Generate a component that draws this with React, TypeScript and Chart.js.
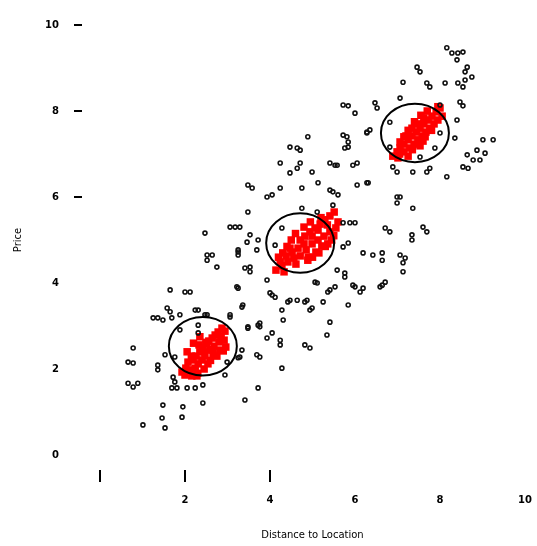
import React, { useEffect, useRef } from "react";
import { Chart, registerables } from "chart.js";

Chart.register(...registerables);

// ---- axis ticks ----
const xTickValues = [0, 2, 4, 6, 8, 10];
const yTickValues = [0, 2, 4, 6, 8, 10];
const xMarkedTicks = [0, 2, 4];
const yMarkedTicks = [6, 8, 10];
const xTitle = "Distance to Location";
const yTitle = "Price";

// ---- black scatter (x, y) ----
const blackX = [
  1.25, 1.36, 1.48, 1.65, 1.69, 1.88, 2.31, 2.52, 3.06, 3.36, 2.31, 2.31, 3.48, 3.72, 0.78, 0.66, 0.78, 1.53, 1.36, 1.36,
  1.76, 1.88, 3.34, 3.25, 3.69, 2.99, 2.94, 1.72, 1.76, 1.69, 1.81, 2.05, 2.24, 2.42, 0.66, 0.78, 0.89, 1.48, 1.95, 2.42,
  3.41, 3.72, 1.01, 1.46, 1.93, 1.53,
  3.06, 3.18, 3.29, 2.47, 3.53, 3.72, 3.46, 3.69, 3.25, 2.52, 2.64, 2.75, 3.53, 3.53, 4.28, 4.12, 3.93, 3.25, 2.0, 4.0,
  4.12, 5.06, 5.36, 4.47, 4.64, 4.82, 4.99, 5.25, 4.28, 4.31, 3.34, 3.06, 2.24, 2.47, 3.48, 3.76,
  4.89, 5.81, 5.84, 6.28, 4.47, 4.64, 4.71, 4.24, 4.71, 4.47, 4.64, 4.99, 5.41, 5.53, 6.05, 5.13, 5.41, 5.6, 6.05, 6.28,
  3.58, 3.93, 4.05, 4.24, 4.75, 3.48, 4.75, 5.11, 5.48,
  8.16, 8.28, 8.42, 8.54, 8.4, 7.46, 7.53, 8.64, 8.59, 7.13, 7.69, 7.76, 8.12, 8.42, 8.59, 8.75, 8.54, 7.06, 5.72, 5.84,
  6.0, 6.47, 6.52, 8.0, 8.47, 8.54, 6.82, 6.35, 6.28, 5.72, 5.84, 5.76, 8.4, 8.35, 8.0, 9.01, 9.25, 8.87, 9.06, 8.64,
  8.78, 8.94, 8.66, 8.54, 7.88, 7.53, 6.82, 6.89, 7.36, 7.76, 8.16, 5.58, 5.95, 6.31,
  3.22, 5.11, 5.41, 5.58, 5.76, 5.95, 6.12, 6.59, 6.71, 7.13, 7.13, 4.05, 4.42, 4.87, 4.94, 5.84, 3.76, 5.41, 5.34, 4.05,
  3.93, 4.24, 4.24, 4.82, 4.94, 3.29, 3.76, 4.28,
  3.48, 3.25, 3.25, 2.52, 3.41, 1.65, 2.12, 1.58,
  5.48, 6.99, 7.06, 6.99, 7.36, 5.72, 5.88, 6.0, 6.71, 6.82, 7.34, 7.34, 7.6, 7.69, 5.72, 5.84, 6.19, 6.42, 6.64, 6.64,
  7.06, 7.18, 5.76, 6.0, 6.19, 6.64, 5.53, 6.99, 7.69,
];
const blackY = [
  3.19, 3.19, 3.14, 3.33, 3.19, 3.26, 3.37, 3.26, 3.26, 3.49, 3.02, 2.84, 2.95, 3.02, 2.49, 2.16, 2.14, 2.33, 2.09, 1.98,
  2.28, 2.91, 2.44, 2.26, 2.33, 2.16, 1.86, 1.81, 1.7, 1.56, 1.56, 1.56, 1.56, 1.63, 1.67, 1.58, 1.67, 1.16, 1.12, 1.21,
  1.28, 1.56, 0.7, 0.86, 0.88, 0.63,
  5.3, 5.3, 5.3, 5.16, 5.12, 5.0, 4.95, 4.77, 4.72, 4.65, 4.65, 4.37, 4.37, 4.26, 5.28, 4.88, 4.07, 3.88, 3.79, 3.77,
  3.67, 4.02, 3.79, 3.6, 3.6, 3.56, 3.42, 3.56, 3.37, 3.14, 3.44, 3.21, 3.37, 3.26, 2.98, 2.98,
  7.4, 7.4, 7.16, 7.51, 7.16, 7.14, 7.09, 6.79, 6.79, 6.56, 6.67, 6.58, 6.79, 6.74, 6.79, 6.33, 6.16, 6.05, 6.28, 6.33,
  6.21, 6.0, 6.05, 6.21, 6.21, 5.65, 5.74, 5.65, 5.81,
  9.47, 9.35, 9.35, 9.37, 9.19, 9.02, 8.91, 9.02, 8.91, 8.67, 8.65, 8.56, 8.65, 8.65, 8.72, 8.79, 8.56, 8.3, 8.14, 8.12,
  7.95, 8.19, 8.07, 8.14, 8.21, 8.12, 7.74, 7.56, 7.49, 7.44, 7.28, 7.14, 7.79, 7.37, 7.49, 7.33, 7.33, 7.09, 7.02, 6.98,
  6.86, 6.86, 6.67, 6.7, 7.14, 6.93, 7.16, 6.7, 6.58, 6.67, 6.47, 6.74, 6.74, 6.33,
  3.91, 4.0, 3.84, 4.3, 4.23, 3.95, 3.79, 3.91, 4.02, 4.47, 4.26, 3.72, 3.56, 3.6, 3.37, 3.49, 3.07, 3.09, 2.79, 2.84,
  2.72, 2.67, 2.56, 2.56, 2.49, 2.28, 2.28, 2.02,
  6.28, 4.77, 4.65, 4.53, 4.35, 3.84, 3.79, 3.42,
  6.12, 6.0, 6.0, 5.86, 5.74, 5.4, 5.4, 5.4, 5.28, 5.19, 5.12, 5.0, 5.3, 5.19, 4.84, 4.93, 4.7, 4.65, 4.7, 4.53,
  4.65, 4.58, 4.14, 3.91, 3.88, 3.95, 3.91, 6.58, 6.58,
];

// ---- red cluster points (x, y) ----
const redX = [
  1.93, 2.02, 2.12, 2.07, 2.19, 2.26, 2.31, 2.35, 2.42, 2.49, 2.56, 2.64, 2.71, 2.78, 2.87, 2.94, 2.47, 2.59, 2.68, 2.8,
  2.92, 2.4, 2.24, 2.54, 2.33, 2.66, 2.82, 2.96, 2.16, 2.45, 2.0, 2.28,
  2.35, 2.2, 2.05, 2.6, 2.75, 2.9, 2.45, 2.3, 2.85, 2.15, 2.5, 2.65,
  4.14, 4.28, 4.42, 4.24, 4.38, 4.52, 4.66, 4.56, 4.71, 4.82, 4.94, 5.06, 5.18, 5.29, 5.41, 5.51, 4.71, 4.85, 4.99, 5.13,
  5.27, 5.41, 5.55, 4.89, 4.61, 5.08, 5.22, 5.36, 4.8, 4.99, 4.47, 5.6, 4.33, 5.13,
  4.6, 4.5, 4.4, 4.3, 5.0, 5.15, 5.3, 5.45, 4.8, 4.95, 5.2, 4.9, 4.2, 5.5, 5.35,
  6.89, 6.99, 7.06, 7.15, 7.25, 7.34, 7.44, 7.53, 7.62, 7.72, 7.81, 7.91, 8.0, 7.15, 7.29, 7.39, 7.48, 7.58, 7.67, 7.76,
  7.86, 7.95, 7.06, 7.2, 7.34, 7.48, 7.62, 7.25, 7.53, 8.05, 7.01,
  7.25, 7.15, 7.4, 7.55, 7.5, 7.65, 7.8, 7.35, 7.05, 7.7, 7.95, 7.6,
];
const redY = [
  1.93, 2.02, 1.98, 2.16, 2.21, 2.3, 2.12, 2.4, 2.49, 2.58, 2.65, 2.72, 2.79, 2.86, 2.95, 2.88, 2.3, 2.44, 2.53, 2.63,
  2.67, 2.21, 2.02, 2.12, 2.56, 2.35, 2.44, 2.51, 1.84, 2.4, 1.86, 1.84,
  2.75, 2.6, 2.4, 2.2, 2.3, 2.42, 2.0, 1.9, 2.75, 2.3, 2.62, 2.45,
  4.3, 4.4, 4.49, 4.49, 4.63, 4.72, 4.81, 4.58, 5.0, 5.09, 5.19, 5.28, 5.37, 5.47, 5.56, 5.65, 4.63, 4.77, 4.91, 5.0,
  5.09, 5.19, 5.28, 4.53, 4.44, 4.72, 4.86, 4.91, 4.91, 5.09, 4.81, 5.42, 4.26, 5.23,
  5.15, 5.0, 4.85, 4.7, 4.6, 4.7, 4.85, 5.0, 5.3, 5.42, 5.52, 4.6, 4.6, 5.1, 5.35,
  6.95, 7.05, 7.14, 7.23, 7.33, 7.42, 7.51, 7.6, 7.7, 7.79, 7.88, 7.98, 8.07, 7.05, 7.14, 7.23, 7.33, 7.42, 7.51, 7.6,
  7.7, 7.79, 7.28, 7.42, 7.6, 7.7, 7.84, 6.95, 7.19, 7.88, 6.91,
  7.55, 7.4, 7.75, 7.9, 7.25, 7.4, 7.55, 7.1, 7.0, 8.0, 8.1, 7.3,
];

// ---- circles (centre and radii in data units) ----
const circleCx = [2.42, 4.71, 7.41];
const circleCy = [2.53, 4.93, 7.49];
const circleRx = [0.8, 0.8, 0.8];
const circleRy = [0.68, 0.69, 0.68];

const toPoints = (xs: number[], ys: number[]) => xs.map((x, i) => ({ x, y: ys[i] }));

const ellipsePlugin = {
  id: "ellipses",
  afterDatasetsDraw(chart: any) {
    const { ctx, scales } = chart;
    const xs = scales.x;
    const ys = scales.y;
    ctx.save();
    ctx.strokeStyle = "#000";
    ctx.lineWidth = 2;
    circleCx.forEach((cx, i) => {
      const px = xs.getPixelForValue(cx);
      const py = ys.getPixelForValue(circleCy[i]);
      const rx = Math.abs(xs.getPixelForValue(cx + circleRx[i]) - px);
      const ry = Math.abs(ys.getPixelForValue(circleCy[i] + circleRy[i]) - py);
      ctx.beginPath();
      ctx.ellipse(px, py, rx, ry, 0, 0, Math.PI * 2);
      ctx.stroke();
    });
    ctx.restore();
  },
};

const tickMarkPlugin = {
  id: "tickMarks",
  afterDraw(chart: any) {
    const { ctx, scales, chartArea } = chart;
    ctx.save();
    ctx.strokeStyle = "#000";
    ctx.lineWidth = 2;
    yMarkedTicks.forEach((v) => {
      const py = Math.round(scales.y.getPixelForValue(v));
      ctx.beginPath();
      ctx.moveTo(chartArea.left - 26, py);
      ctx.lineTo(chartArea.left - 18, py);
      ctx.stroke();
    });
    xMarkedTicks.forEach((v) => {
      const px = Math.round(scales.x.getPixelForValue(v));
      ctx.beginPath();
      ctx.moveTo(px, chartArea.bottom + 15);
      ctx.lineTo(px, chartArea.bottom + 27);
      ctx.stroke();
    });
    ctx.restore();
  },
};

const zeroScalePadding = (s: any) => {
  s.paddingTop = 0;
  s.paddingBottom = 0;
  s.paddingLeft = 0;
  s.paddingRight = 0;
};

export default function App() {
  const canvasRef = useRef<HTMLCanvasElement | null>(null);

  useEffect(() => {
    if (!canvasRef.current) return;
    const font = { family: "DejaVu Sans", size: 10, weight: "bold" as const };
    const chart = new Chart(canvasRef.current, {
      type: "scatter",
      data: {
        datasets: [
          {
            label: "points",
            data: toPoints(blackX, blackY),
            pointStyle: "circle",
            pointRadius: 2,
            pointBorderWidth: 1.6,
            pointBorderColor: "#111",
            pointBackgroundColor: "rgba(255,255,255,0)",
            order: 0,
          },
          {
            label: "clusters",
            data: toPoints(redX, redY),
            pointStyle: "rect",
            pointRadius: 5.3,
            pointBorderWidth: 0,
            pointBackgroundColor: "#ff0000",
            pointBorderColor: "#ff0000",
            order: 1,
          },
        ],
      },
      options: {
        animation: false,
        responsive: true,
        maintainAspectRatio: false,
        layout: { padding: { top: 25, right: 12, left: 0, bottom: 0 } },
        plugins: { legend: { display: false }, tooltip: { enabled: false } },
        scales: {
          x: {
            type: "linear",
            min: 0,
            max: 10,
            border: { display: false },
            grid: { display: false, drawTicks: false },
            afterFit: (s: any) => {
              s.height = 91;
              zeroScalePadding(s);
            },
            afterBuildTicks: (s: any) => {
              s.ticks = xTickValues.map((v) => ({ value: v }));
            },
            ticks: {
              padding: 39,
              color: "#000",
              font,
              maxRotation: 0,
              callback: (v: any) => (v === 0 ? "" : String(v)),
            },
            title: {
              display: true,
              text: xTitle,
              color: "#000",
              font: { family: "DejaVu Sans", size: 10 },
              padding: { top: 0, bottom: 5 },
            },
          },
          y: {
            type: "linear",
            min: 0,
            max: 10,
            border: { display: false },
            grid: { display: false, drawTicks: false },
            afterFit: (s: any) => {
              s.width = 100;
              zeroScalePadding(s);
            },
            afterBuildTicks: (s: any) => {
              s.ticks = yTickValues.map((v) => ({ value: v }));
            },
            ticks: {
              padding: 41,
              color: "#000",
              font,
              callback: (v: any) => String(v),
            },
            title: {
              display: true,
              text: yTitle,
              color: "#000",
              font: { family: "DejaVu Sans", size: 10 },
              padding: { top: 12, bottom: 0 },
            },
          },
        },
      },
      plugins: [ellipsePlugin, tickMarkPlugin],
    });
    return () => chart.destroy();
  }, []);

  return (
    <div style={{ position: "fixed", left: 0, top: 0, width: 537, height: 546, background: "#fff" }}>
      <canvas ref={canvasRef} style={{ display: "block" }} />
    </div>
  );
}
